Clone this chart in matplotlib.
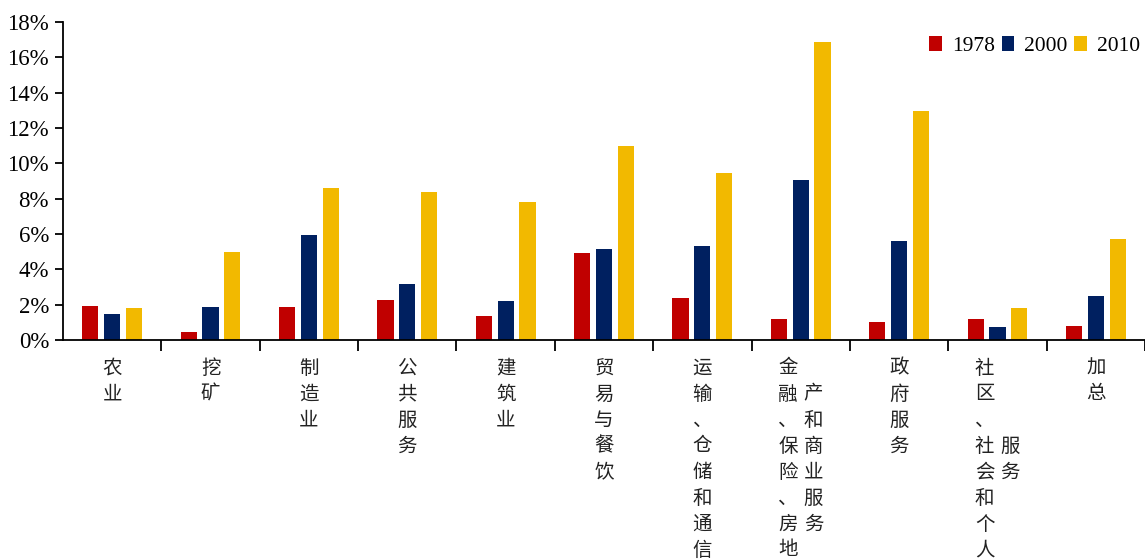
import matplotlib
matplotlib.use("Agg")
import matplotlib.pyplot as plt
import numpy as np
from matplotlib.transforms import blended_transform_factory
from matplotlib.ticker import FuncFormatter
from matplotlib.patches import Patch

categories = ["农业", "挖矿", "制造业", "公共服务", "建筑业", "贸易与餐饮",
              "运输、仓储和通信", "金融、保险、房地产和商业服务", "政府服务",
              "社区、社会和个人服务", "加总"]
series_names = ["1978", "2000", "2010"]
v1978 = [1.9, 0.45, 1.85, 2.25, 1.35, 4.9, 2.4, 1.2, 1.0, 1.2, 0.8]
v2000 = [1.45, 1.85, 5.95, 3.15, 2.2, 5.15, 5.3, 9.05, 5.6, 0.75, 2.5]
v2010 = [1.8, 5.0, 8.6, 8.4, 7.8, 11.0, 9.45, 16.85, 12.95, 1.8, 5.7]
yticks = [0, 2, 4, 6, 8, 10, 12, 14, 16, 18]

colors = ["#C00000", "#002060", "#F2B900"]

W, H = 1145, 559
fig = plt.figure(figsize=(W / 100, H / 100), dpi=100)
ax = fig.add_axes([63 / W, (H - 340) / H, (W - 63) / W, (340 - 22) / H])

x = np.arange(len(categories)) + 0.5
bw = 0.165
step = 0.222
for i, (vals, c, name) in enumerate(zip([v1978, v2000, v2010], colors, series_names)):
    ax.bar(x + (i - 1) * step, vals, width=bw, color=c, label=name, zorder=2)

ax.set_xlim(0, len(categories))
ax.set_ylim(0, 18)
ax.set_yticks(yticks)
ax.yaxis.set_major_formatter(FuncFormatter(lambda v, p: f"{v:.0f}%"))
ax.set_xticks(np.arange(1, len(categories) + 1))
ax.set_xticklabels([])
ax.tick_params(axis="x", direction="out", length=8, width=1.3, colors="black")
ax.tick_params(axis="y", direction="out", length=6, width=1.3, pad=4)
for lab in ax.get_yticklabels():
    lab.set_fontfamily("Liberation Serif")
    lab.set_fontsize(16.5)
for s in ["top", "right"]:
    ax.spines[s].set_visible(False)
for s in ["left", "bottom"]:
    ax.spines[s].set_linewidth(1.3)

# vertical category labels
trans = blended_transform_factory(ax.transData, fig.transFigure)
row_h = 26.0
top_y = 368.0
col_off = 0.13
for xi, cat in zip(x, categories):
    cols = [cat[:8], cat[8:]] if len(cat) > 8 else [cat]
    n = len(cols)
    maxlen = max(len(c) for c in cols)
    for ci, col in enumerate(cols):
        cx = xi + (ci - (n - 1) / 2) * 2 * col_off if n > 1 else xi
        start = (maxlen - len(col)) / 2
        for ri, ch in enumerate(col):
            ypx = top_y + (start + ri) * row_h
            ax.text(cx, (H - ypx) / H, ch, transform=trans, ha="center", va="center",
                    fontsize=14, family=["Noto Sans CJK SC", "DejaVu Sans"],
                    color="#222222", clip_on=False)

handles = [Patch(facecolor=c, edgecolor="none") for c in colors]
leg = fig.legend(handles, series_names, loc="upper right",
                 bbox_to_anchor=(1144 / W, (H - 32) / H),
                 ncol=3, frameon=False, handlelength=0.6, handleheight=0.65,
                 handletextpad=0.45, columnspacing=0.3, borderaxespad=0.0,
                 borderpad=0.2,
                 prop={"family": "Liberation Serif", "size": 15.5})

fig.savefig("out.png", dpi=100)
